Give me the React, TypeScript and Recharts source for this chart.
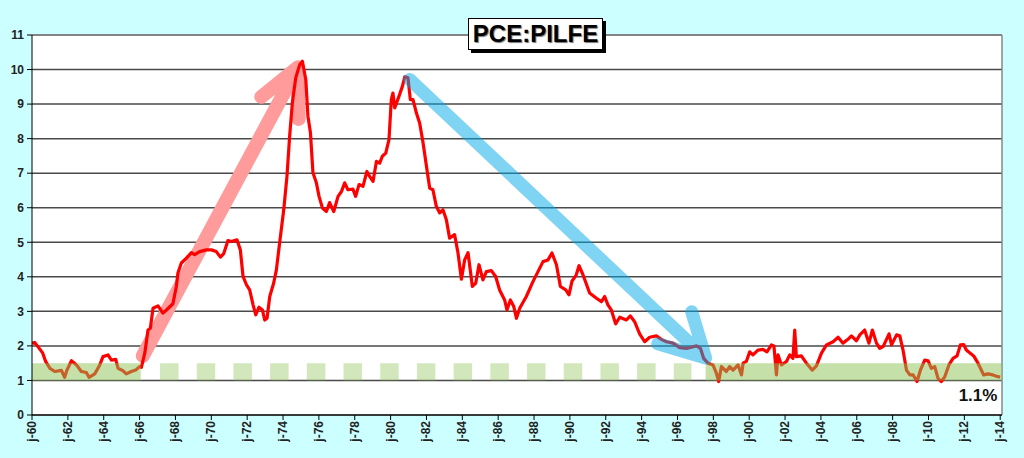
import React from "react";
import { ComposedChart, Line, XAxis, YAxis, CartesianGrid, ReferenceLine } from "recharts";

// PCE less food & energy, y/y %, [year, value]
const pilfe: [number, number][] = [
  [1960.0, 2.08], [1960.15, 2.1], [1960.3, 2.0], [1960.6, 1.79], [1960.76, 1.55], [1961.0, 1.35],
  [1961.27, 1.26], [1961.64, 1.29], [1961.82, 1.09], [1961.95, 1.3], [1962.2, 1.57], [1962.48, 1.45],
  [1962.75, 1.26], [1963.03, 1.23], [1963.18, 1.09], [1963.5, 1.19], [1963.78, 1.45], [1963.96, 1.69],
  [1964.24, 1.74], [1964.43, 1.59], [1964.67, 1.61], [1964.8, 1.35], [1965.08, 1.28], [1965.26, 1.19],
  [1965.54, 1.26], [1965.78, 1.3], [1966.0, 1.4], [1966.1, 1.38], [1966.29, 1.79], [1966.47, 2.46],
  [1966.6, 2.51], [1966.75, 3.09], [1967.03, 3.16], [1967.3, 2.95], [1967.5, 3.04], [1967.86, 3.22],
  [1968.05, 3.72], [1968.14, 4.11], [1968.33, 4.4], [1968.61, 4.54], [1968.89, 4.7], [1969.07, 4.64],
  [1969.35, 4.73], [1969.73, 4.78], [1970.0, 4.78], [1970.28, 4.73], [1970.51, 4.57], [1970.69, 4.67],
  [1970.93, 5.05], [1971.12, 5.02], [1971.43, 5.07], [1971.62, 4.78], [1971.77, 4.01], [1971.96, 3.77],
  [1972.14, 3.62], [1972.33, 3.19], [1972.48, 2.9], [1972.66, 3.12], [1972.85, 3.04], [1972.98, 2.75],
  [1973.11, 2.8], [1973.26, 3.43], [1973.48, 3.82], [1973.63, 4.2], [1973.81, 4.98], [1974.04, 5.94],
  [1974.22, 6.91], [1974.37, 8.07], [1974.52, 9.03], [1974.71, 9.76], [1974.93, 10.14], [1975.08, 10.24],
  [1975.27, 9.71], [1975.39, 8.65], [1975.53, 8.17], [1975.67, 7.01], [1975.86, 6.72], [1976.01, 6.33],
  [1976.2, 5.99], [1976.42, 5.89], [1976.6, 6.15], [1976.83, 5.89], [1977.07, 6.33], [1977.26, 6.47],
  [1977.44, 6.72], [1977.62, 6.52], [1977.9, 6.54], [1978.05, 6.33], [1978.24, 6.67], [1978.46, 6.62],
  [1978.68, 7.05], [1978.83, 6.91], [1979.02, 6.76], [1979.21, 7.34], [1979.39, 7.29], [1979.54, 7.49],
  [1979.73, 7.58], [1979.91, 7.97], [1980.04, 9.13], [1980.13, 9.32], [1980.23, 8.89], [1980.47, 9.23],
  [1980.66, 9.52], [1980.79, 9.79], [1980.97, 9.76], [1981.1, 9.13], [1981.25, 9.13], [1981.44, 8.74],
  [1981.62, 8.45], [1981.81, 7.88], [1982.0, 7.2], [1982.18, 6.57], [1982.36, 6.52], [1982.55, 6.04],
  [1982.74, 5.85], [1982.92, 5.94], [1983.11, 5.65], [1983.29, 5.12], [1983.57, 5.22], [1983.76, 4.69],
  [1983.95, 3.93], [1984.13, 4.49], [1984.32, 4.7], [1984.56, 3.72], [1984.75, 3.82], [1984.93, 4.35],
  [1985.15, 3.91], [1985.34, 4.15], [1985.62, 4.18], [1985.86, 4.01], [1986.08, 3.62], [1986.36, 3.33],
  [1986.49, 3.04], [1986.68, 3.33], [1986.87, 3.14], [1987.02, 2.8], [1987.2, 3.09], [1987.57, 3.43],
  [1987.94, 3.86], [1988.22, 4.15], [1988.5, 4.44], [1988.78, 4.49], [1989.0, 4.69], [1989.25, 4.35],
  [1989.47, 3.72], [1989.77, 3.62], [1989.95, 3.48], [1990.12, 3.88], [1990.35, 4.05], [1990.51, 4.32],
  [1990.73, 4.06], [1991.1, 3.53], [1991.48, 3.38], [1991.76, 3.28], [1991.94, 3.43], [1992.12, 3.19],
  [1992.31, 3.04], [1992.55, 2.64], [1992.78, 2.83], [1993.15, 2.75], [1993.37, 2.87], [1993.61, 2.7],
  [1993.89, 2.35], [1994.17, 2.12], [1994.45, 2.25], [1994.82, 2.29], [1995.1, 2.19], [1995.38, 2.12],
  [1995.75, 2.08], [1996.12, 1.95], [1996.5, 1.93], [1996.78, 1.96], [1997.06, 2.0], [1997.28, 1.93],
  [1997.46, 1.64], [1997.7, 1.5], [1997.98, 1.45], [1998.17, 1.21], [1998.3, 0.97], [1998.45, 1.4],
  [1998.73, 1.26], [1998.91, 1.4], [1999.1, 1.3], [1999.38, 1.45], [1999.57, 1.16], [1999.66, 1.5],
  [1999.84, 1.55], [2000.03, 1.83], [2000.21, 1.74], [2000.49, 1.88], [2000.77, 1.9], [2000.99, 1.83],
  [2001.24, 2.03], [2001.38, 2.0], [2001.52, 1.16], [2001.61, 1.74], [2001.8, 1.45], [2002.08, 1.55],
  [2002.26, 1.74], [2002.44, 1.64], [2002.54, 2.46], [2002.63, 1.69], [2002.91, 1.71], [2003.19, 1.5],
  [2003.52, 1.3], [2003.75, 1.42], [2004.03, 1.79], [2004.31, 2.03], [2004.68, 2.12], [2004.96, 2.25],
  [2005.23, 2.08], [2005.51, 2.19], [2005.7, 2.29], [2005.98, 2.15], [2006.17, 2.32], [2006.44, 2.46],
  [2006.68, 2.08], [2006.87, 2.46], [2007.1, 2.08], [2007.28, 1.93], [2007.47, 1.98], [2007.8, 2.35],
  [2007.94, 2.03], [2008.22, 2.32], [2008.4, 2.29], [2008.58, 1.88], [2008.77, 1.3], [2008.96, 1.16],
  [2009.14, 1.16], [2009.36, 0.97], [2009.55, 1.3], [2009.79, 1.59], [2009.98, 1.57], [2010.16, 1.35],
  [2010.35, 1.4], [2010.53, 1.06], [2010.72, 0.97], [2010.91, 1.11], [2011.14, 1.45], [2011.37, 1.64],
  [2011.59, 1.71], [2011.78, 2.03], [2011.96, 2.04], [2012.11, 1.88], [2012.33, 1.79], [2012.52, 1.71],
  [2012.76, 1.5], [2013.08, 1.16], [2013.32, 1.19], [2013.59, 1.16], [2013.87, 1.11], [2014.0, 1.1],
];

const xTicks = [1960, 1962, 1964, 1966, 1968, 1970, 1972, 1974, 1976, 1978, 1980, 1982, 1984, 1986,
  1988, 1990, 1992, 1994, 1996, 1998, 2000, 2002, 2004, 2006, 2008, 2010, 2012, 2014];
const yTicks = [0, 1, 2, 3, 4, 5, 6, 7, 8, 9, 10, 11];

// target band 1-1.5%: solid where inflation sat in it, dashed in between
const bandLow = 1;
const bandHigh = 1.5;
const solidBands: [number, number][] = [[1960, 1966.06], [1997.57, 2014.1]];
const dashedBand: [number, number] = [1967.14, 1996.78];

// arrows drawn as polylines: start -> tip -> arm -> tip -> arm
const upArrow: [number, number][] = [[1966.18, 1.71], [1974.82, 10.06], [1972.79, 9.21], [1974.82, 10.06], [1974.87, 8.57]];
const downArrow: [number, number][] = [[1981.07, 9.71], [1997.57, 1.65], [1996.79, 2.99], [1997.57, 1.65], [1994.9, 2.06]];

const toRows = (pts: [number, number][]) => pts.map(([x, v]) => ({ x, v }));
const lineData = toRows(pilfe);
const bandMid = (bandLow + bandHigh) / 2;
// band thickness in px: plot is 380px tall for 11 units
const bandPx = ((bandHigh - bandLow) * 380) / 11;

const font = "Arial, 'Liberation Sans', sans-serif";

const XTick = ({ x, y, payload }: any) => {
  const yr = String(payload.value).slice(2);
  return (
    <text
      x={x}
      y={y}
      transform={`rotate(-90 ${x} ${y})`}
      textAnchor="end"
      dominantBaseline="central"
      fontFamily={font}
      fontWeight="bold"
      fontSize={12}
      fill="#222"
    >
      {"j-" + yr}
    </text>
  );
};

export default function App() {
  return (
    <div style={{ position: "relative", width: 1024, height: 458, background: "#ccffff" }}>
      <style>{"body{margin:0}"}</style>
      <ComposedChart width={1024} height={458} margin={{ top: 35, right: 22, left: 0, bottom: 0 }}>
        <CartesianGrid vertical={false} fill="#ffffff" stroke="#4a4a4a" strokeWidth={1.5} />
        <XAxis
          type="number"
          dataKey="x"
          domain={[1960, 2014.1]}
          ticks={xTicks}
          allowDataOverflow
          height={43}
          tick={<XTick />}
          tickSize={5}
          tickMargin={1}
          stroke="#000"
          interval={0}
        />
        <YAxis
          type="number"
          domain={[0, 11]}
          ticks={yTicks}
          width={32}
          tickSize={5}
          tickMargin={3}
          stroke="#000"
          interval={0}
          tick={{ fontFamily: font, fontWeight: "bold", fontSize: 12, fill: "#222" }}
        />
        <ReferenceLine y={11} stroke="#888" strokeWidth={1.5} />
        <ReferenceLine x={2014.1} stroke="#888" strokeWidth={1.5} />
        <Line
          data={toRows(upArrow)}
          dataKey="v"
          stroke="#ff9b9b"
          strokeWidth={14}
          strokeLinecap="round"
          strokeLinejoin="round"
          dot={false}
          activeDot={false}
          isAnimationActive={false}
        />
        <Line
          data={lineData}
          dataKey="v"
          stroke="#ff0000"
          strokeWidth={3.2}
          strokeLinejoin="round"
          dot={false}
          activeDot={false}
          isAnimationActive={false}
        />
        {solidBands.map(([a, b], i) => (
          <Line
            key={i}
            data={[{ x: a, v: bandMid }, { x: b, v: bandMid }]}
            dataKey="v"
            stroke="#8cc152"
            strokeOpacity={0.5}
            strokeWidth={bandPx}
            strokeLinecap="butt"
            dot={false}
            activeDot={false}
            isAnimationActive={false}
          />
        ))}
        <Line
          data={[{ x: dashedBand[0], v: bandMid }, { x: dashedBand[1], v: bandMid }]}
          dataKey="v"
          stroke="#8cc152"
          strokeOpacity={0.38}
          strokeWidth={bandPx}
          strokeDasharray="18.5 18.2"
          strokeLinecap="butt"
          dot={false}
          activeDot={false}
          isAnimationActive={false}
        />
        <Line
          data={toRows(downArrow)}
          dataKey="v"
          stroke="#00a8e8"
          strokeOpacity={0.5}
          strokeWidth={13}
          strokeLinecap="round"
          strokeLinejoin="round"
          dot={false}
          activeDot={false}
          isAnimationActive={false}
        />
      </ComposedChart>
      <div
        style={{
          position: "absolute",
          left: 468,
          top: 18,
          width: 133,
          height: 30,
          background: "#fff",
          border: "1.5px solid #000",
          boxShadow: "3px 3px 0 #000",
          fontFamily: font,
          fontWeight: "bold",
          fontSize: 24,
          lineHeight: "30px",
          textAlign: "center",
          color: "#000",
          textShadow: "1px 1px 1px #777",
        }}
      >
        PCE:PILFE
      </div>
      <div
        style={{
          position: "absolute",
          left: 952,
          top: 386,
          width: 52,
          textAlign: "center",
          fontFamily: font,
          fontWeight: "bold",
          fontSize: 17,
          color: "#111",
        }}
      >
        1.1%
      </div>
    </div>
  );
}
